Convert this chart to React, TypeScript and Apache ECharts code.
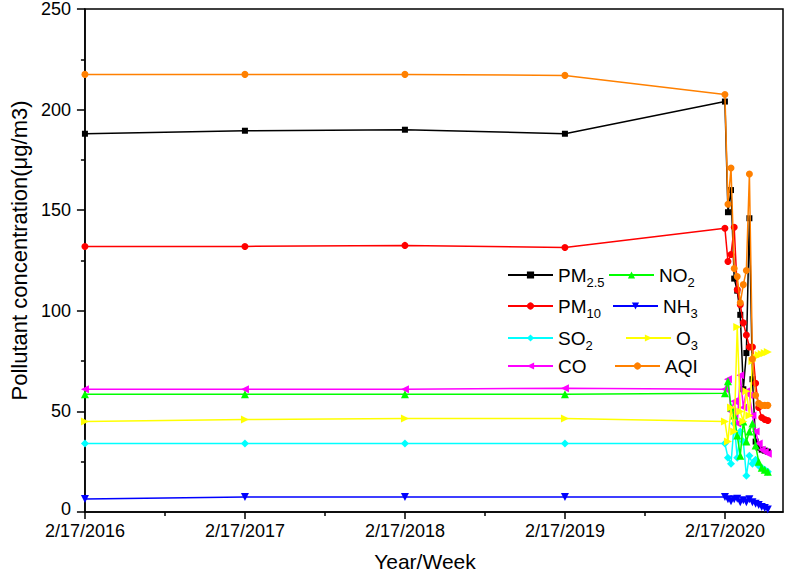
import React, { useEffect, useRef } from "react";
import * as echarts from "echarts";

// x positions in years since 2/17/2016 (yearly points, then weekly points in 2020)
const xYears = [0, 1, 2, 3, 4, 4.019, 4.038, 4.058, 4.077, 4.096, 4.115, 4.134, 4.153, 4.172, 4.192, 4.211, 4.23, 4.249, 4.268];
const yearTicks = [0, 1, 2, 3, 4];
const halfYearTicks = [0.5, 1.5, 2.5, 3.5];
const startYear = 2016;

const seriesNames = ["PM2.5", "PM10", "SO2", "CO", "NO2", "NH3", "O3", "AQI"];

const pm25 = [188, 189.5, 190, 188, 204, 149, 160, 116, 110, 98, 61, 79, 146, 66, 35, 32, 31, 30.5, 30];
const pm10 = [132, 132, 132.5, 131.5, 141, 124.5, 128, 141.5, 110.5, 103, 94, 88, 82, 82, 64, 52, 47, 46, 45.5];
const so2 = [34, 34, 34, 34, 34, 27, 24, 44, 27, 40, 35, 18, 28, 24, 26, 23, 22, 21, 20];
const co = [61, 61, 61, 61.5, 61, 66, 50, 55, 44, 68, 52, 60, 58, 48, 40, 34, 31, 30, 29];
const no2 = [58.5, 58.5, 58.5, 58.5, 59, 65, 52, 48, 38, 28, 45, 35, 40, 44, 33, 25, 22, 21, 20];
const nh3 = [6.5, 7.5, 7.5, 7.5, 7.5, 6.3, 5.3, 6.3, 6.6, 4.9, 5.8, 4.9, 6.3, 4.9, 4.1, 3.5, 2.5, 2, 1.3];
const o3 = [45, 46, 46.5, 46.5, 45, 35, 52, 40, 92, 50, 45, 60, 48, 75, 77, 78, 78.5, 79, 79.5];
const aqi = [217.5, 217.5, 217.5, 217, 207.5, 153, 171, 121, 117, 104, 113, 120, 168, 76, 58, 54, 53, 53, 53];

const values = [pm25, pm10, so2, co, no2, nh3, o3, aqi];
const colors = ["#000000", "#ff0000", "#00ffff", "#ff00ff", "#00ff00", "#0000ff", "#ffff00", "#ff8000"];
const symbols = ["rect", "circle", "diamond", "triangle", "triangle", "triangle", "triangle", "circle"];
const rotations = [0, 0, 0, 90, 0, 180, -90, 0];
const symbolSizes = [6, 7, 8, 8, 8, 8, 8, 7];
const legendLabels = ["PM{s|2.5}", "PM{s|10}", "SO{s|2}", "CO", "NO{s|2}", "NH{s|3}", "O{s|3}", "AQI"];
const legendPos = [
  [507, 261], [507, 292], [507, 324], [507, 355],
  [608, 261], [612, 292], [625, 324], [614, 355],
];

const FONT = "'Liberation Sans', Arial, sans-serif";

export default function App() {
  const ref = useRef<HTMLDivElement>(null);
  useEffect(() => {
    const chart = echarts.init(ref.current!, null, { renderer: "svg" });
    const series = seriesNames.map((name, i) => ({
      name,
      type: "line",
      xAxisIndex: 0,
      data: values[i].map((v, j) => [xYears[j], v]),
      symbol: symbols[i],
      symbolRotate: rotations[i],
      symbolSize: symbolSizes[i],
      color: colors[i],
      lineStyle: { color: colors[i], width: 1.5 },
      itemStyle: { color: colors[i] },
      z: 2 + i,
    }));
    const legend = seriesNames.map((name, i) => ({
      data: [name],
      left: legendPos[i][0],
      top: legendPos[i][1],
      padding: 0,
      itemWidth: 45,
      itemHeight: 9,
      itemGap: 0,
      selectedMode: false,
      formatter: () => legendLabels[i],
      textStyle: {
        fontFamily: FONT,
        fontSize: 19,
        color: "#000",
        lineHeight: 22,
        rich: {
          s: { fontFamily: FONT, fontSize: 13, color: "#000", lineHeight: 22, padding: [15, 0, 0, 0] },
        },
      },
    }));
    chart.setOption({
      animation: false,
      backgroundColor: "#ffffff",
      grid: {
        left: 78,
        top: 7,
        right: 2,
        bottom: 65,
        show: true,
        borderColor: "#000",
        borderWidth: 1.5,
        backgroundColor: "transparent",
      },
      legend,
      xAxis: [
        {
          type: "value",
          min: 0,
          max: 4.363,
          position: "bottom",
          name: "Year/Week",
          nameLocation: "middle",
          nameGap: 39,
          nameTextStyle: { fontFamily: FONT, fontSize: 21, color: "#000", padding: [0, 18, 0, 0] },
          axisLine: { show: true, lineStyle: { color: "#000", width: 1.5 } },
          axisTick: { show: true, inside: false, customValues: yearTicks, length: 7, lineStyle: { color: "#000", width: 1.5 } },
          axisLabel: {
            customValues: yearTicks,
            formatter: (v: number) => `2/17/${startYear + Math.round(v)}`,
            fontFamily: FONT,
            fontSize: 18,
            lineHeight: 18,
            color: "#000",
            margin: 10,
          },
          splitLine: { show: false },
        },
        {
          type: "value",
          min: 0,
          max: 4.363,
          position: "bottom",
          axisLine: { show: false },
          axisTick: { show: true, inside: false, customValues: halfYearTicks, length: 4, lineStyle: { color: "#000", width: 1.5 } },
          axisLabel: { show: false },
          splitLine: { show: false },
        },
      ],
      yAxis: {
        type: "value",
        min: 0,
        max: 250,
        interval: 50,
        name: "Pollutant concentration(μg/m3)",
        nameLocation: "middle",
        nameGap: 52,
        nameTextStyle: { fontFamily: FONT, fontSize: 22, color: "#000", padding: [0, 0, 0, 20] },
        axisLine: { show: true, lineStyle: { color: "#000", width: 1.5 } },
        axisTick: { show: true, inside: false, length: 8, lineStyle: { color: "#000", width: 1.5 } },
        minorTick: { show: true, splitNumber: 2, length: 4, lineStyle: { color: "#000", width: 1.5 } },
        axisLabel: {
          fontFamily: FONT,
          fontSize: 18,
          lineHeight: 16,
          color: "#000",
          margin: 14,
          formatter: (v: number) => (v === 0 ? "{z|0}" : String(v)),
          rich: { z: { fontFamily: FONT, fontSize: 18, lineHeight: 16, color: "#000", padding: [0, 0, 6, 0] } },
        },
        splitLine: { show: false },
      },
      series,
    });
    return () => chart.dispose();
  }, []);
  return (
    <div
      ref={ref}
      style={{ position: "fixed", left: 0, top: 0, width: 785, height: 577, background: "#fff" }}
    />
  );
}
